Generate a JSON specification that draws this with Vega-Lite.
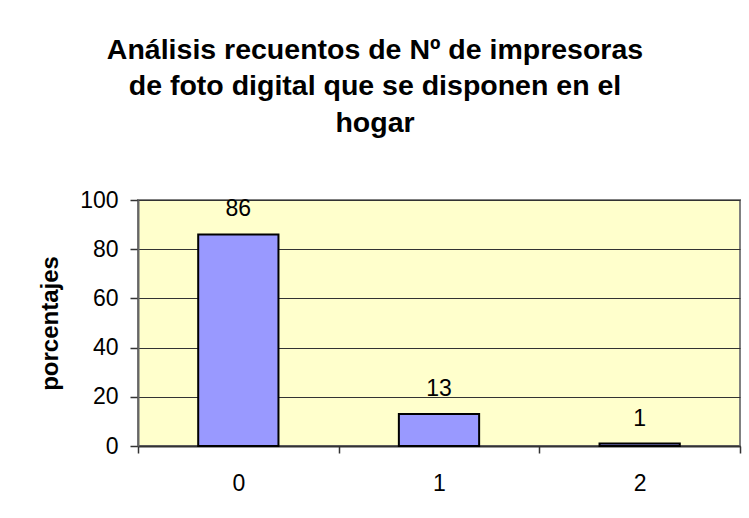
{
  "$schema": "https://vega.github.io/schema/vega-lite/v6.json",
  "autosize": "none",
  "width": 602,
  "height": 246,
  "padding": {"left": 138, "top": 200, "right": 9, "bottom": 72},
  "background": "white",
  "title": {
    "text": ["Análisis recuentos de Nº de impresoras", "de foto digital que se disponen en el", "hogar"],
    "font": "Liberation Sans",
    "fontSize": 28.5,
    "fontWeight": "bold",
    "lineHeight": 36.5,
    "color": "black",
    "anchor": "middle",
    "frame": "group",
    "dx": -64,
    "offset": 52
  },
  "config": {
    "view": {"fill": "#FFFFCC", "stroke": "#808080", "strokeWidth": 2},
    "font": "Liberation Sans"
  },
  "data": {
    "values": [
      {"n": "0", "pct": 86},
      {"n": "1", "pct": 13},
      {"n": "2", "pct": 1}
    ]
  },
  "encoding": {
    "x": {
      "field": "n",
      "type": "ordinal",
      "scale": {"paddingInner": 0, "paddingOuter": 0},
      "axis": {
        "title": null,
        "labelAngle": 0,
        "labelFont": "Liberation Sans",
        "labelFontSize": 23,
        "labelColor": "black",
        "labelBaseline": "alphabetic",
        "labelPadding": 37,
        "tickBand": "extent",
        "tickSize": 7,
        "tickColor": "#333333",
        "tickWidth": 1.5,
        "domainColor": "#333333",
        "domainWidth": 2,
        "grid": false
      }
    },
    "y": {
      "field": "pct",
      "type": "quantitative",
      "scale": {"domain": [0, 100]},
      "axis": {
        "title": "porcentajes",
        "titleFont": "Liberation Sans",
        "titleFontSize": 24,
        "titleFontWeight": "bold",
        "titleColor": "black",
        "titlePadding": 17,
        "values": [0, 20, 40, 60, 80, 100],
        "labelFont": "Liberation Sans",
        "labelFontSize": 23,
        "labelColor": "black",
        "labelPadding": 12,
        "tickSize": 8,
        "tickColor": "#333333",
        "tickWidth": 1.5,
        "domainColor": "#666666",
        "domainWidth": 2,
        "grid": true,
        "gridColor": "#333333",
        "gridWidth": 1,
        "gridOpacity": 1
      }
    }
  },
  "layer": [
    {
      "mark": {"type": "bar", "width": {"band": 0.4}, "fill": "#9999FF", "stroke": "black", "strokeWidth": 2}
    },
    {
      "mark": {"type": "text", "font": "Liberation Sans", "fontSize": 23, "color": "black", "baseline": "alphabetic", "dy": -18},
      "encoding": {"text": {"field": "pct", "type": "quantitative"}}
    }
  ]
}
